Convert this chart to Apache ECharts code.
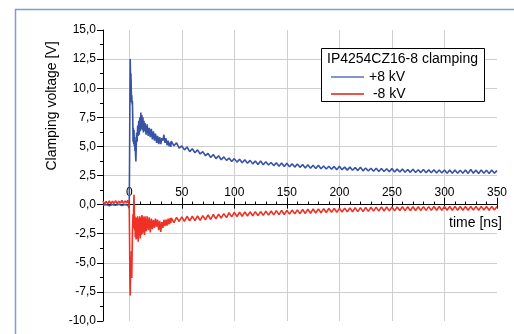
<!DOCTYPE html>
<html><head><meta charset="utf-8">
<script src="https://cdn.jsdelivr.net/npm/echarts@6/dist/echarts.min.js"></script>
<style>html,body{margin:0;padding:0;background:#fff}#c{width:514px;height:334px}</style>
</head><body><div id="c"></div>
<script>
// x-axis tick values (ns)
const xMajorTicks = [0, 50, 100, 150, 200, 250, 300, 350];
const xMinorTicks = [10,20,30,40,60,70,80,90,110,120,130,140,160,170,180,190,210,220,230,240,260,270,280,290,310,320,330,340];

// +8 kV trace, early part
const plusEarlyTime = [-25,-22,-19,-16,-13,-10,-7,-4,-1,-0.3,0,0.3,0.6,0.9,1.2,1.5,1.8,2.1,2.4,2.7,3.0,3.3,3.6,3.9,4.2,4.5,4.8,5.1,5.4,5.7,6.0,6.3,6.6,7.0,7.5,8.0,8.5,9.0,9.5,10,10.5,11,11.5,12,12.5,13,13.5,14,14.5,15,16,17,18,19,20,21,22,23,24,25,26,27,28,29,30,31,32,33,34,35,36,37,38,39,39.5];
const plusEarlyVolt = [-0.05,0.0,-0.1,0.0,-0.05,0.02,-0.08,0.0,-0.05,-0.3,0.2,4.0,9.0,12.5,10.8,11.3,10.5,8.8,9.4,8.6,8.9,7.5,5.4,6.6,5.2,6.4,5.0,5.8,4.6,5.5,4.2,3.7,4.8,6.2,5.4,6.8,5.9,7.2,6.0,7.5,6.3,7.9,6.5,7.7,6.4,7.5,6.2,7.2,6.3,7.0,6.0,6.9,5.9,6.6,5.8,6.5,5.6,6.3,5.5,6.1,5.3,5.9,5.2,5.8,5.2,5.7,5.5,6.0,5.3,5.7,5.1,5.5,5.0,5.35,4.95];

// -8 kV trace, early part
const minusEarlyTime = [-25,-23.5,-22,-20.5,-19,-17.5,-16,-14.5,-13,-11.5,-10,-8.5,-7,-5.5,-4,-2.5,-1.5,-0.5,0,0.3,0.6,0.9,1.2,1.5,1.8,2.1,2.4,2.7,3.0,3.3,3.6,3.9,4.2,4.5,4.8,5.1,5.4,5.7,6.0,6.5,7.0,7.5,8.0,8.5,9.0,9.5,10,10.5,11,11.5,12,12.5,13,13.5,14,14.5,15,16,17,18,19,20,21,22,23,24,25,26,27,28,29,30,31,32,33,34,35,36,37,38,39,39.5];
const minusEarlyVolt = [0.3,0.05,0.28,0.08,0.32,0.06,0.3,0.1,0.34,0.08,0.3,0.12,0.36,0.1,0.32,0.14,0.38,0.12,-0.4,-3.0,-6.5,-7.8,-6.0,-4.5,-5.8,-4.0,-6.3,-4.2,-2.5,-1.5,-0.8,-2.0,-0.2,0.85,-0.5,-2.2,-1.0,-2.8,-1.3,-3.0,-1.1,-2.9,-1.0,-3.2,-1.2,-2.7,-1.0,-2.9,-1.1,-2.6,-0.9,-2.5,-1.0,-2.4,-1.1,-2.6,-1.0,-2.3,-1.0,-2.2,-1.1,-2.4,-1.2,-2.1,-1.3,-2.0,-1.2,-1.9,-1.3,-2.2,-1.4,-2.35,-1.5,-2.0,-1.3,-1.85,-1.3,-1.8,-1.2,-1.7,-1.15,-1.6];

// shared sampling of the later, slowly decaying part (ns)
const lateTime = [40,42.5,45,47.5,50,52.5,55,57.5,60,62.5,65,67.5,70,72.5,75,77.5,80,82.5,85,87.5,90,92.5,95,97.5,100,102.5,105,107.5,110,112.5,115,117.5,120,122.5,125,127.5,130,132.5,135,137.5,140,142.5,145,147.5,150,152.5,155,157.5,160,162.5,165,167.5,170,172.5,175,177.5,180,182.5,185,187.5,190,192.5,195,197.5,200,202.5,205,207.5,210,212.5,215,217.5,220,222.5,225,227.5,230,232.5,235,237.5,240,242.5,245,247.5,250,252.5,255,257.5,260,262.5,265,267.5,270,272.5,275,277.5,280,282.5,285,287.5,290,292.5,295,297.5,300,302.5,305,307.5,310,312.5,315,317.5,320,322.5,325,327.5,330,332.5,335,337.5,340,342.5,345,347.5,350];

const plusLateVolt = [5.45,5.05,5.3,4.85,5.05,4.7,4.95,4.55,4.8,4.45,4.7,4.35,4.55,4.2,4.4,4.05,4.3,3.95,4.2,3.85,4.1,3.8,4.0,3.7,3.95,3.65,3.9,3.6,3.85,3.55,3.8,3.5,3.75,3.45,3.75,3.42,3.68,3.4,3.62,3.35,3.6,3.3,3.58,3.28,3.55,3.25,3.5,3.22,3.48,3.2,3.45,3.15,3.42,3.12,3.38,3.1,3.38,3.08,3.32,3.06,3.3,3.04,3.28,3.0,3.3,3.0,3.22,2.96,3.22,2.95,3.18,2.92,3.2,2.9,3.15,2.88,3.12,2.86,3.12,2.85,3.1,2.84,3.08,2.82,3.1,2.8,3.05,2.8,3.05,2.78,3.02,2.77,3.04,2.76,3.0,2.75,3.02,2.74,2.98,2.74,3.0,2.72,2.98,2.72,2.98,2.7,2.96,2.7,2.98,2.7,2.95,2.7,2.97,2.68,3.02,2.7,2.96,2.68,2.98,2.7,2.95,2.68,2.97,2.7,2.92];

const minusLateVolt = [-1.15,-1.55,-1.1,-1.45,-1.05,-1.45,-1.0,-1.4,-1.0,-1.38,-0.98,-1.35,-0.95,-1.3,-0.88,-1.28,-0.85,-1.22,-0.82,-1.15,-0.78,-1.12,-0.7,-1.05,-0.68,-1.02,-0.66,-1.0,-0.64,-0.98,-0.62,-0.96,-0.6,-0.95,-0.6,-0.92,-0.56,-0.9,-0.55,-0.88,-0.52,-0.86,-0.5,-0.85,-0.5,-0.82,-0.47,-0.8,-0.45,-0.78,-0.42,-0.76,-0.4,-0.74,-0.38,-0.72,-0.37,-0.7,-0.35,-0.68,-0.34,-0.66,-0.32,-0.66,-0.32,-0.64,-0.3,-0.62,-0.28,-0.62,-0.27,-0.6,-0.26,-0.6,-0.24,-0.58,-0.23,-0.56,-0.22,-0.56,-0.2,-0.55,-0.2,-0.54,-0.2,-0.54,-0.2,-0.52,-0.19,-0.52,-0.18,-0.52,-0.18,-0.5,-0.18,-0.5,-0.17,-0.5,-0.17,-0.5,-0.16,-0.49,-0.16,-0.5,-0.16,-0.49,-0.16,-0.48,-0.15,-0.49,-0.16,-0.48,-0.15,-0.48,-0.16,-0.47,-0.15,-0.48,-0.15,-0.47,-0.16,-0.48,-0.15,-0.47,-0.16,-0.48,-0.15];

function pairs(ts, vs) { return ts.map((t, i) => [t, vs[i]]).filter(p => p[1] !== undefined); }
const plusData = pairs(plusEarlyTime, plusEarlyVolt).concat(pairs(lateTime, plusLateVolt));
const minusData = pairs(minusEarlyTime, minusEarlyVolt).concat(pairs(lateTime, minusLateVolt));

const FONT = 'Liberation Sans, Arial, Helvetica, sans-serif';
const GRID = { left: 103, right: 17, top: 30, bottom: 13 };
const Y_MIN = -10, Y_MAX = 15;
// place the x axis at y = 0 (the axis crosses the value axis at zero)
const plotH = 334 - GRID.top - GRID.bottom;
const zeroOffset = -plotH * (Y_MAX - 0) / (Y_MAX - Y_MIN);

const chart = echarts.init(document.getElementById('c'), null, { renderer: 'canvas' });
const xCommon = { type: 'value', min: -25, max: 350, position: 'top', offset: zeroOffset };
chart.setOption({
  animation: false,
  textStyle: { fontFamily: FONT },
  grid: Object.assign({ containLabel: false }, GRID),
  xAxis: [
    Object.assign({}, xCommon, {
      axisLine: { show: true, onZero: false, lineStyle: { color: '#000', width: 1 } },
      axisTick: { show: true, inside: false, length: 7, customValues: xMajorTicks, lineStyle: { color: '#000' } },
      axisLabel: { show: true, customValues: xMajorTicks, margin: 6, color: '#000', fontSize: 12, fontFamily: FONT },
      splitLine: { show: false },
      minorTick: { show: false }
    }),
    Object.assign({}, xCommon, {
      axisLine: { show: false, onZero: false },
      axisTick: { show: true, inside: false, length: 3, customValues: xMinorTicks, lineStyle: { color: '#000' } },
      axisLabel: { show: false },
      splitLine: { show: false }
    }),
    Object.assign({}, xCommon, {
      axisLine: { show: false, onZero: false },
      axisTick: { show: true, inside: true, length: 4, customValues: xMajorTicks, lineStyle: { color: '#000' } },
      axisLabel: { show: false },
      splitLine: { show: false }
    }),
    // grid lines only
    { type: 'value', min: -25, max: 350, position: 'bottom',
      axisLine: { show: false, onZero: false }, axisTick: { show: false, customValues: xMajorTicks }, axisLabel: { show: false },
      splitLine: { show: true, showMaxLine: false, lineStyle: { color: '#cfcfcf', width: 1 } } }
  ],
  yAxis: {
    type: 'value', min: Y_MIN, max: Y_MAX, interval: 2.5,
    axisLine: { show: true, onZero: false, lineStyle: { color: '#000', width: 1 } },
    axisTick: { show: true, length: 6, lineStyle: { color: '#000' } },
    minorTick: { show: true, splitNumber: 2, length: 3, lineStyle: { color: '#000' } },
    axisLabel: { formatter: v => v.toFixed(1).replace('.', ','), margin: 7, color: '#000', fontSize: 12, fontFamily: FONT },
    splitLine: { show: true, showMinLine: false, showMaxLine: false, lineStyle: { color: '#cfcfcf', width: 1 } }
  },
  legend: {
    orient: 'vertical', left: 326, top: 65, itemWidth: 33, itemHeight: 2, itemGap: 3, icon: 'rect',
    textStyle: { fontSize: 14, color: '#000', fontFamily: FONT },
    formatter: n => n === '-8 kV' ? ' -8 kV' : n,
    data: [
      { name: '+8 kV', itemStyle: { color: '#7f95d6' } },
      { name: '-8 kV', itemStyle: { color: '#e8564a' } }
    ],
    z: 20
  },
  graphic: [
    { type: 'polyline', silent: true, z: 1, shape: { points: [[15.5, 334], [15.5, 9.5], [514, 9.5]] }, style: { stroke: '#7e9cd8', lineWidth: 1.5, fill: null } },
    { type: 'rect', silent: true, z: 10, shape: { x: 321.5, y: 48.5, width: 163, height: 53 }, style: { fill: '#fff', stroke: '#000', lineWidth: 1 } },
    { type: 'text', silent: true, z: 11, x: 327, y: 59, style: { text: 'IP4254CZ16-8 clamping', fontSize: 14, fontFamily: FONT, fill: '#000', verticalAlign: 'middle' } },
    { type: 'text', silent: true, z: 11, x: 502, y: 223, style: { text: 'time [ns]', fontSize: 14, fontFamily: FONT, fill: '#000', align: 'right', verticalAlign: 'middle' } },
    { type: 'text', silent: true, z: 11, x: 52, y: 106, rotation: Math.PI / 2, style: { text: 'Clamping voltage [V]', fontSize: 14, fontFamily: FONT, fill: '#000', align: 'center', verticalAlign: 'middle' } }
  ],
  series: [
    { name: '+8 kV', type: 'line', xAxisIndex: 0, data: plusData, showSymbol: false, symbol: 'none', silent: true,
      lineStyle: { color: '#3953a4', width: 1.6 }, itemStyle: { color: '#3953a4' } },
    { name: '-8 kV', type: 'line', xAxisIndex: 0, data: minusData, showSymbol: false, symbol: 'none', silent: true,
      lineStyle: { color: '#ee3124', width: 1.6 }, itemStyle: { color: '#ee3124' } }
  ]
});
</script>
</body></html>
